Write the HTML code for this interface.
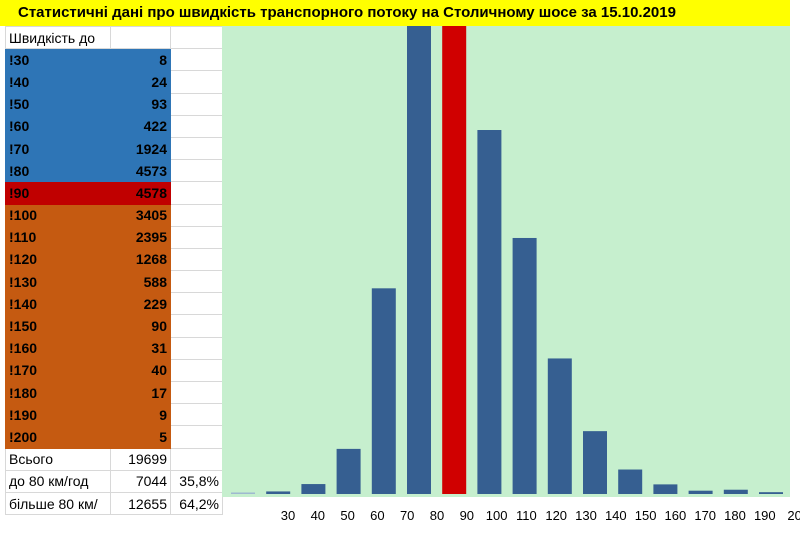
<!DOCTYPE html>
<html><head><meta charset="utf-8">
<style>
body{margin:0;width:800px;height:533px;background:#fff;overflow:hidden;position:relative;font-family:"Liberation Sans","DejaVu Sans",sans-serif}
#title{position:absolute;left:0;top:0;width:790px;height:26px;background:#ffff00;font-weight:bold;font-size:15px;line-height:26px;padding-left:18px;box-sizing:border-box;white-space:nowrap}
table{position:absolute;left:5px;top:26px;border-collapse:collapse;font-size:14px}
td{height:22.2px;padding:0 3px;box-sizing:border-box;border:1px solid #d8d8d8;white-space:nowrap}
td.c1{width:105px}td.c2{width:60px;text-align:right}td.c3{width:52px;text-align:right}
tr.b td.c1,tr.b td.c2{background:#2e75b6;border-color:#2e75b6;font-weight:bold}
tr.r td.c1,tr.r td.c2{background:#c00000;border-color:#c00000;font-weight:bold}
tr.o td.c1,tr.o td.c2{background:#c55a11;border-color:#c55a11;font-weight:bold}
#chart{position:absolute;left:0;top:0}
</style></head><body>
<div id="title">Статистичні дані про швидкість транспорного потоку на Столичному шосе за 15.10.2019</div>
<table id="tbl"></table>
<svg id="chart" width="800" height="533"></svg>
<script>
const categories=[30,40,50,60,70,80,90,100,110,120,130,140,150,160,170,180,190,200];
const counts=[8,24,93,422,1924,4573,4578,3405,2395,1268,588,229,90,31,40,17,9,5];
const tickLabels=["30","40","50","60","70","80","90","100","110","120","130","140","150","160","170","180","190","20"];
const highlightIndex=6;
const tbl=document.getElementById('tbl');
function row(cls,a,b,c,name){const tr=document.createElement('tr');tr.className=cls;


tr.innerHTML='<td class="c1">'+a+'</td><td class="c2">'+b+'</td><td class="c3">'+c+'</td>';tbl.appendChild(tr);}
row('','Швидкість до','','','header-row');
categories.forEach((c,i)=>{const v=counts[i];row(i<6?'b':(i==6?'r':'o'),'!'+c,v,'','row-'+c);});
const total=counts.reduce((a,b)=>a+b,0);
const low=counts.slice(0,6).reduce((a,b)=>a+b,0);
row('','Всього',total,'','total-row');
row('','до 80 км/год',low,(low/total*100).toFixed(1).replace('.',',')+'%','below-80-row');
row('','більше 80 км/',total-low,((total-low)/total*100).toFixed(1).replace('.',',')+'%','above-80-row');
const NS='http://www.w3.org/2000/svg';
const svg=document.getElementById('chart');
const pl=222,pt=26,pr=790,pb=497,base=494;
function y(v){return base-v*0.1069;}
function bx(i){return 231+i*35.2;}
function lx(i){return 288+i*29.8;}
const clip=document.createElementNS(NS,'clipPath');clip.setAttribute('id','cp');
const cr=document.createElementNS(NS,'rect');cr.setAttribute('x',pl);cr.setAttribute('y',pt);cr.setAttribute('width',pr-pl);cr.setAttribute('height',pb-pt);clip.appendChild(cr);svg.appendChild(clip);
const bg=document.createElementNS(NS,'rect');


bg.setAttribute('x',pl);bg.setAttribute('y',pt);bg.setAttribute('width',pr-pl);bg.setAttribute('height',pb-pt);bg.setAttribute('fill','#c6efce');svg.appendChild(bg);
const g=document.createElementNS(NS,'g');g.setAttribute('clip-path','url(#cp)');svg.appendChild(g);
counts.forEach((v,i)=>{const r=document.createElementNS(NS,'rect');


const h=Math.max(base-y(v),1.5);
r.setAttribute('x',bx(i));r.setAttribute('y',base-h);r.setAttribute('width',24);r.setAttribute('height',h);
r.setAttribute('fill',i==highlightIndex?'#d00000':(i==0?'#9fb9d0':'#365f91'));g.appendChild(r);});
tickLabels.forEach((t,i)=>{const tx=document.createElementNS(NS,'text');


tx.setAttribute('x',lx(i));tx.setAttribute('y',520);tx.setAttribute('text-anchor','middle');tx.setAttribute('font-size','13');tx.setAttribute('font-family','Liberation Sans, sans-serif');tx.textContent=t;svg.appendChild(tx);});
</script>
</body></html>
